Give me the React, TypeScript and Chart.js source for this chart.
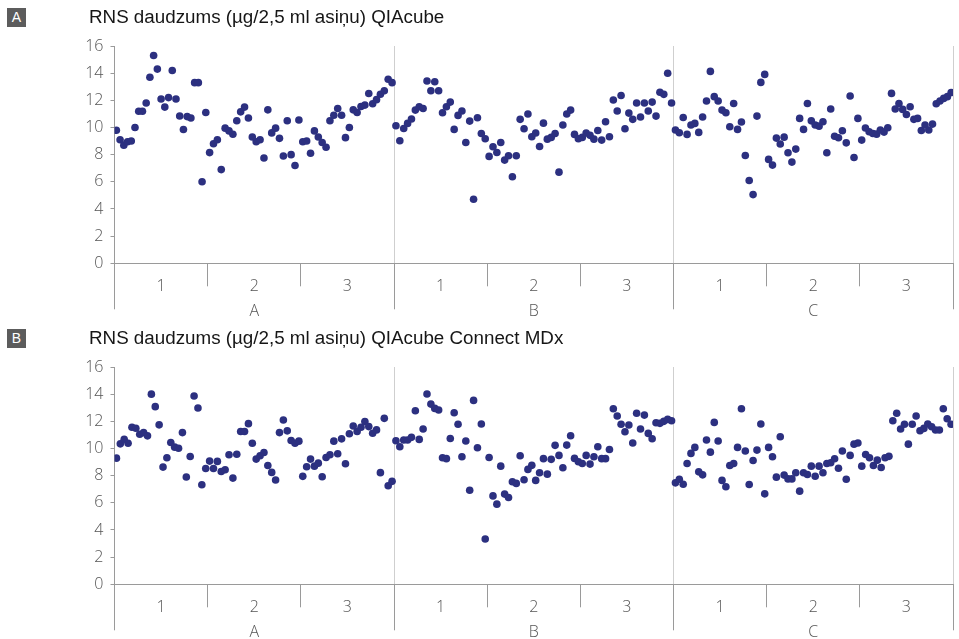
import React, { useEffect, useRef } from "react";
import { Chart, registerables } from "chart.js";

Chart.register(...registerables);

// ---- labels ----
const subLabels = ["1", "2", "3", "1", "2", "3", "1", "2", "3"];
const groupLabels = ["A", "B", "C"];
const titleA = "RNS daudzums (µg/2,5 ml asiņu) QIAcube";
const titleB = "RNS daudzums (µg/2,5 ml asiņu) QIAcube Connect MDx";
const yMin = 0;
const yMax = 16;
const yStep = 2;

// ---- panel A: QIAcube ----
const qcA1 = [9.8, 9.1, 8.7, 8.95, 9.0, 10.0, 11.2, 11.2, 11.8, 13.7, 15.3, 14.3, 12.1, 11.5, 12.2, 14.2, 12.1, 10.85, 9.85, 10.8, 10.7, 13.3, 13.3, 6.0, 11.1];
const qcA2 = [8.15, 8.8, 9.1, 6.9, 9.95, 9.75, 9.5, 10.5, 11.15, 11.5, 10.7, 9.3, 8.95, 9.1, 7.75, 11.3, 9.6, 9.95, 9.2, 7.9, 10.5, 8.0, 7.2, 10.55];
const qcA3 = [8.95, 9.0, 8.1, 9.75, 9.3, 8.9, 8.55, 10.5, 10.9, 11.4, 10.9, 9.25, 10.0, 11.3, 11.1, 11.55, 11.65, 12.5, 11.75, 12.05, 12.45, 12.7, 13.55, 13.3];
const qcB1 = [10.13, 9.02, 9.93, 10.3, 10.62, 11.28, 11.53, 11.4, 13.42, 12.71, 13.37, 12.71, 11.09, 11.53, 11.87, 9.86, 10.89, 11.21, 8.9, 10.47, 4.72, 10.72, 9.56, 9.17];
const qcB2 = [7.87, 8.58, 8.16, 8.9, 7.6, 7.92, 6.37, 7.92, 10.6, 9.91, 10.99, 9.32, 9.59, 8.6, 10.32, 9.14, 9.27, 9.56, 6.71, 10.18, 10.99, 11.28, 9.49, 9.17];
const qcB3 = [9.27, 9.59, 9.42, 9.14, 9.78, 9.07, 10.42, 9.32, 12.02, 11.21, 12.36, 9.91, 11.06, 10.6, 11.8, 10.77, 11.8, 11.21, 11.87, 10.84, 12.59, 12.44, 13.99, 11.8];
const qcC1 = [9.81, 9.61, 10.74, 9.49, 10.18, 10.3, 9.64, 10.77, 11.95, 14.13, 12.27, 11.95, 11.28, 11.09, 10.05, 11.77, 9.86, 10.4, 7.94, 6.1, 5.06, 10.84, 13.32, 13.91];
const qcC2 = [7.65, 7.23, 9.22, 8.78, 9.29, 8.14, 7.45, 8.41, 10.67, 9.86, 11.77, 10.49, 10.18, 10.1, 10.42, 8.14, 11.36, 9.36, 9.24, 9.76, 8.87, 12.32, 7.79, 10.67];
const qcC3 = [9.07, 9.96, 9.69, 9.56, 9.51, 9.81, 9.66, 9.98, 12.51, 11.36, 11.77, 11.33, 10.96, 11.53, 10.6, 10.67, 9.78, 10.18, 9.81, 10.25, 11.75, 11.95, 12.14, 12.27, 12.58];

// ---- panel B: QIAcube Connect MDx ----
const mdxA1 = [9.29, 10.34, 10.68, 10.39, 11.56, 11.49, 11.05, 11.17, 10.93, 14.0, 13.08, 11.74, 8.63, 9.32, 10.44, 10.1, 10.02, 11.17, 7.9, 9.41, 13.86, 12.98, 7.33, 8.53];
const mdxA2 = [9.07, 8.53, 9.05, 8.31, 8.43, 9.54, 7.82, 9.58, 11.25, 11.25, 11.83, 10.39, 9.22, 9.46, 9.71, 8.75, 8.24, 7.68, 11.17, 12.1, 11.3, 10.59, 10.39, 10.54];
const mdxA3 = [7.95, 8.66, 9.22, 8.7, 8.92, 7.92, 9.34, 9.54, 10.54, 9.61, 10.71, 8.88, 11.08, 11.66, 11.25, 11.56, 11.98, 11.61, 11.12, 11.37, 8.22, 12.22, 7.26, 7.58];
const mdxB1 = [10.57, 10.13, 10.62, 10.62, 10.82, 12.78, 10.67, 11.43, 14.01, 13.27, 12.95, 12.83, 9.32, 9.25, 10.74, 12.63, 11.78, 9.39, 10.55, 6.93, 13.54, 10.05, 11.8, 3.34];
const mdxB2 = [9.34, 6.51, 5.9, 8.7, 6.64, 6.39, 7.55, 7.43, 9.46, 7.7, 8.46, 8.76, 7.65, 8.21, 9.25, 8.11, 9.2, 10.23, 9.49, 8.58, 10.25, 10.94, 9.27, 9.02];
const mdxB3 = [8.9, 9.49, 8.85, 9.39, 10.13, 9.25, 9.25, 9.93, 12.93, 12.39, 11.78, 11.23, 11.73, 10.4, 12.59, 11.43, 12.46, 11.11, 10.72, 11.9, 11.85, 12.0, 12.14, 12.04];
const mdxC1 = [7.47, 7.74, 7.37, 8.9, 9.64, 10.08, 8.28, 8.06, 10.62, 9.73, 11.92, 10.55, 7.65, 7.18, 8.75, 8.9, 10.08, 12.93, 9.81, 7.35, 9.12, 9.88, 11.8, 6.66];
const mdxC2 = [10.08, 9.39, 7.89, 10.86, 8.04, 7.76, 7.76, 8.21, 6.86, 8.21, 8.09, 8.7, 7.96, 8.7, 8.21, 8.9, 8.95, 9.24, 8.55, 9.81, 7.74, 9.49, 10.32, 10.4];
const mdxC3 = [8.7, 9.56, 9.32, 8.75, 9.14, 8.6, 9.32, 9.42, 12.04, 12.59, 11.43, 11.78, 10.32, 11.78, 12.39, 11.31, 11.48, 11.8, 11.6, 11.36, 11.36, 12.93, 12.19, 11.78];

const panelASeries = [qcA1, qcA2, qcA3, qcB1, qcB2, qcB3, qcC1, qcC2, qcC3];
const panelBSeries = [mdxA1, mdxA2, mdxA3, mdxB1, mdxB2, mdxB3, mdxC1, mdxC2, mdxC3];

// ---- styles ----
const DOT = "#2c3080";
const AXIS = "#9a9a9a";
const SEP = "#cfcfcf";
const TEXT = "#555555";
const FONT = "'Open Sans', 'Liberation Sans', sans-serif";
const W = 959;
const H = 318;

function Panel({ top, letter, title, series }: { top: number; letter: string; title: string; series: number[][] }) {
  const ref = useRef<HTMLCanvasElement>(null);
  useEffect(() => {
    const points: { x: number; y: number }[] = [];
    series.forEach((vals, s) => {
      vals.forEach((v, j) => points.push({ x: s + (j + 0.5) / vals.length, y: v }));
    });
    const chart = new Chart(ref.current as HTMLCanvasElement, {
      type: "scatter",
      data: {
        datasets: [
          {
            data: points,
            pointRadius: 3.8,
            pointHoverRadius: 3.8,
            backgroundColor: DOT,
            borderWidth: 0,
          },
        ],
      },
      options: {
        animation: false,
        responsive: false,
        maintainAspectRatio: false,
        events: [],
        plugins: { legend: { display: false }, tooltip: { enabled: false }, title: { display: false } },
        layout: { padding: { top: 46, right: 6, bottom: 1.7, left: 0 } },
        scales: {
          x: { type: "linear", min: 0, max: subLabels.length, display: false },
          y: {
            type: "linear",
            min: yMin,
            max: yMax,
            ticks: { stepSize: yStep, color: TEXT, font: { family: FONT, size: 16, weight: "300" as any }, padding: 7 },
            grid: { drawOnChartArea: false, drawTicks: true, tickLength: 4, tickColor: AXIS, color: AXIS },
            border: { display: true, color: AXIS, width: 1 },
            afterFit: (s: any) => {
              s.width = 114.5;
            },
          },
          sub: {
            type: "category",
            axis: "x",
            position: "bottom",
            weight: 1,
            labels: subLabels,
            offset: true,
            ticks: {
              color: TEXT,
              font: { family: FONT, size: 16, weight: "300" as any },
              mirror: true,
              padding: -32.3,
              maxRotation: 0,
              autoSkip: false,
            },
            grid: { offset: true, drawOnChartArea: false, drawTicks: true, tickLength: 23, color: AXIS, tickColor: AXIS },
            border: { display: true, color: AXIS, width: 1 },
            afterFit: (s: any) => {
              s.height = 23;
            },
          } as any,
          grp: {
            type: "category",
            axis: "x",
            position: "bottom",
            weight: 2,
            labels: groupLabels,
            offset: true,
            ticks: {
              color: TEXT,
              font: { family: FONT, size: 16, weight: "300" as any },
              mirror: true,
              padding: -34.3,
              maxRotation: 0,
              autoSkip: false,
            },
            grid: {
              offset: true,
              drawOnChartArea: true,
              drawTicks: true,
              tickLength: 23,
              color: (ctx: any) => (ctx.index === 0 ? "rgba(0,0,0,0)" : SEP),
              tickColor: AXIS,
            },
            border: { display: false },
            afterFit: (s: any) => {
              s.height = 30;
            },
          } as any,
        },
      },
    });
    return () => chart.destroy();
  }, []);

  return (
    <div style={{ position: "absolute", left: 0, top, width: W, height: H }}>
      <canvas ref={ref} width={W} height={H} style={{ position: "absolute", left: 0, top: 0, width: W, height: H }} />
      <div
        style={{
          position: "absolute",
          left: 7,
          top: 8,
          width: 19,
          height: 19,
          background: "#5c5c5c",
          color: "#ffffff",
          fontFamily: "'Liberation Sans', Arial, sans-serif",
          fontSize: 14,
          lineHeight: "19px",
          textAlign: "center",
        }}
      >
        {letter}
      </div>
      <div
        style={{
          position: "absolute",
          left: 89,
          top: 6,
          fontFamily: "'Liberation Sans', Arial, sans-serif",
          fontSize: 18.8,
          lineHeight: "22px",
          color: "#161616",
          whiteSpace: "nowrap",
        }}
      >
        {title}
      </div>
    </div>
  );
}

export default function App() {
  return (
    <div style={{ position: "absolute", left: 0, top: 0, width: W, height: 639, background: "#ffffff", overflow: "hidden" }}>
      <Panel top={0} letter="A" title={titleA} series={panelASeries} />
      <Panel top={321} letter="B" title={titleB} series={panelBSeries} />
    </div>
  );
}
